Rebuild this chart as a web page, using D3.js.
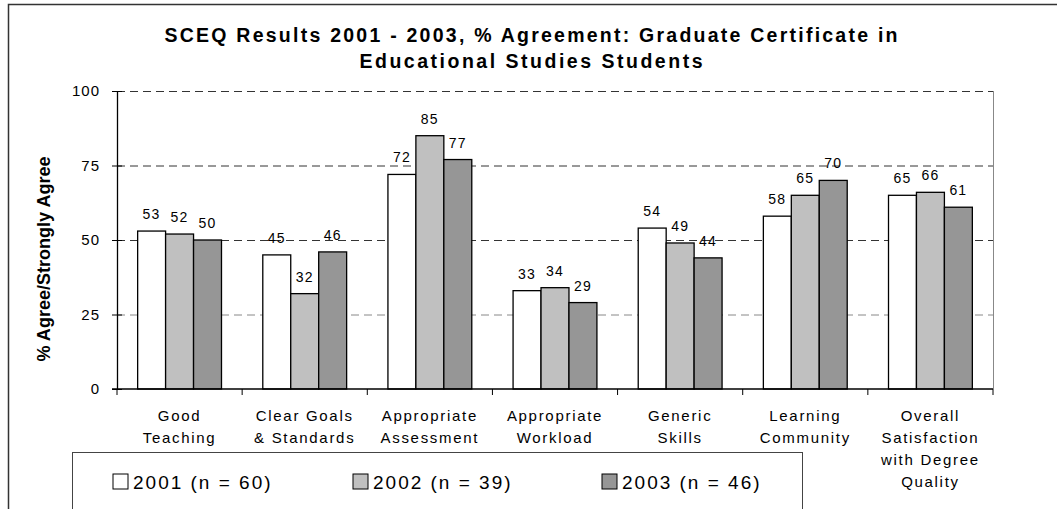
<!DOCTYPE html>
<html lang="en">
<head>
    <meta charset="UTF-8">
    <script src="https://d3js.org/d3.v7.min.js"></script>
    <style>
        body {
            margin: 0;
            padding: 0;
            background-color: #ffffff;
            font-family: 'Liberation Sans', Arial, sans-serif;
        }

        svg {
            display: block;
        }

        .title {
            font-size: 19.5px;
            font-weight: bold;
            fill: #000;
        }

        .tick-label {
            font-size: 15px;
            letter-spacing: 1px;
            fill: #000;
        }

        .cat-label {
            font-size: 15px;
            letter-spacing: 1.7px;
            fill: #000;
        }

        .value {
            font-size: 14px;
            letter-spacing: 1.2px;
            fill: #000;
            text-anchor: middle;
        }

        .legend-text {
            font-size: 19px;
            letter-spacing: 2px;
            fill: #000;
        }
    </style>
</head>
<body>
    <svg id="chart" width="1057" height="509"></svg>

    <script>
        // Chart data
        const categories = [
            "Good|Teaching",
            "Clear Goals|& Standards",
            "Appropriate|Assessment",
            "Appropriate|Workload",
            "Generic|Skills",
            "Learning|Community",
            "Overall|Satisfaction|with Degree|Quality"
        ];
        const seriesNames = ["2001 (n = 60)", "2002 (n = 39)", "2003 (n = 46)"];
        const values2001 = [53, 45, 72, 33, 54, 58, 65];
        const values2002 = [52, 32, 85, 34, 49, 65, 66];
        const values2003 = [50, 46, 77, 29, 44, 70, 61];
        const yTicks = [0, 25, 50, 75, 100];
        const colors = ["#ffffff", "#c0c0c0", "#969696"];

        const seriesValues = [values2001, values2002, values2003];

        const svg = d3.select("#chart");

        // plot area
        const plot = { left: 117, right: 993, top: 91, bottom: 389 };

        const x = d3.scaleBand()
            .domain(categories)
            .range([plot.left, plot.right]);

        const groupWidth = x.bandwidth() * 0.67;
        const x1 = d3.scaleBand()
            .domain(seriesNames)
            .range([0, groupWidth]);

        const y = d3.scaleLinear()
            .domain([0, 100])
            .range([plot.bottom, plot.top]);

        // outer frame
        svg.append("rect")
            .attr("x", 8.5)
            .attr("y", 4.5)
            .attr("width", 1100)
            .attr("height", 600)
            .attr("fill", "none")
            .attr("stroke", "#333")
            .attr("stroke-width", 1.5);

        // title
        const title = svg.append("text")
            .attr("class", "title")
            .attr("text-anchor", "middle");
        title.append("tspan")
            .attr("x", 531).attr("y", 42)
            .attr("textLength", 733)
            .attr("lengthAdjust", "spacing")
            .text("SCEQ Results 2001 - 2003, % Agreement: Graduate Certificate in");
        title.append("tspan")
            .attr("x", 531).attr("y", 68)
            .attr("textLength", 343)
            .attr("lengthAdjust", "spacing")
            .text("Educational Studies Students");

        // gridlines
        svg.append("g")
            .selectAll("line")
            .data(yTicks.filter(d => d > 0))
            .enter()
            .append("line")
            .attr("x1", plot.left)
            .attr("x2", plot.right)
            .attr("y1", d => y(d) + 0.5)
            .attr("y2", d => y(d) + 0.5)
            .attr("stroke", d => d === 25 ? "#888" : "#333")
            .attr("stroke-width", 1)
            .attr("stroke-dasharray", "8,5");

        // right border of plot area
        svg.append("line")
            .attr("x1", plot.right + 0.5)
            .attr("x2", plot.right + 0.5)
            .attr("y1", y(100))
            .attr("y2", y(0))
            .attr("stroke", "#888")
            .attr("stroke-width", 1);

        // bars
        const groups = svg.append("g")
            .selectAll("g")
            .data(categories)
            .enter()
            .append("g")
            .attr("transform", c => `translate(${x(c) + (x.bandwidth() - groupWidth) / 2},0)`);

        groups.selectAll("rect")
            .data((c, i) => seriesNames.map((s, j) => ({ s, j, v: seriesValues[j][i] })))
            .enter()
            .append("rect")
            .attr("x", d => x1(d.s))
            .attr("y", d => y(d.v))
            .attr("width", x1.bandwidth())
            .attr("height", d => y(0) - y(d.v))
            .attr("fill", d => colors[d.j])
            .attr("stroke", "#000")
            .attr("stroke-width", 1.3);

        groups.selectAll(".value")
            .data((c, i) => seriesNames.map((s, j) => ({ s, j, v: seriesValues[j][i] })))
            .enter()
            .append("text")
            .attr("class", "value")
            .attr("x", d => x1(d.s) + x1.bandwidth() / 2)
            .attr("y", d => y(d.v) - 12)
            .text(d => d.v);

        // y axis
        const yAxis = svg.append("g")
            .attr("transform", `translate(${plot.left},0)`)
            .call(d3.axisLeft(y).tickValues(yTicks).tickSize(5).tickPadding(12).tickSizeOuter(0));
        yAxis.select(".domain").attr("stroke", "#000").attr("stroke-width", 1.3);
        yAxis.selectAll(".tick line").attr("x1", 5).attr("stroke", "#000");
        yAxis.selectAll(".tick text")
            .attr("class", "tick-label")
            .attr("font-family", null)
            .attr("font-size", null);

        // x axis line and boundary ticks
        svg.append("line")
            .attr("x1", plot.left - 5)
            .attr("x2", plot.right)
            .attr("y1", y(0))
            .attr("y2", y(0))
            .attr("stroke", "#000")
            .attr("stroke-width", 1.3);

        svg.append("g")
            .selectAll("line")
            .data(categories.map(c => x(c)).concat([x.range()[1]]))
            .enter()
            .append("line")
            .attr("x1", d => d)
            .attr("x2", d => d)
            .attr("y1", y(0))
            .attr("y2", y(0) + 6)
            .attr("stroke", "#000");

        // category labels
        svg.append("g")
            .selectAll("text")
            .data(categories)
            .enter()
            .append("text")
            .attr("class", "cat-label")
            .attr("text-anchor", "middle")
            .each(function (c) {
                const t = d3.select(this);
                c.split("|").forEach((line, i) => {
                    t.append("tspan")
                        .attr("x", x(c) + x.bandwidth() / 2)
                        .attr("y", 421 + i * 22)
                        .text(line);
                });
            });

        // y axis title
        svg.append("text")
            .attr("transform", "translate(50,259) rotate(-90)")
            .attr("text-anchor", "middle")
            .attr("font-size", 18)
            .attr("font-weight", "bold")
            .attr("textLength", 205)
            .attr("lengthAdjust", "spacingAndGlyphs")
            .text("% Agree/Strongly Agree");

        // legend
        svg.append("rect")
            .attr("x", 72.5)
            .attr("y", 452.5)
            .attr("width", 730)
            .attr("height", 80)
            .attr("fill", "#fff")
            .attr("stroke", "#444")
            .attr("stroke-width", 1);

        const legendX = [113, 353, 602];
        const legend = svg.append("g")
            .selectAll("g")
            .data(seriesNames)
            .enter()
            .append("g")
            .attr("transform", (d, i) => `translate(${legendX[i]},474)`);

        legend.append("rect")
            .attr("width", 15)
            .attr("height", 15)
            .attr("fill", (d, i) => colors[i])
            .attr("stroke", "#000");

        legend.append("text")
            .attr("class", "legend-text")
            .attr("x", 20)
            .attr("y", 15)
            .text(d => d);
    </script>
</body>
</html>
